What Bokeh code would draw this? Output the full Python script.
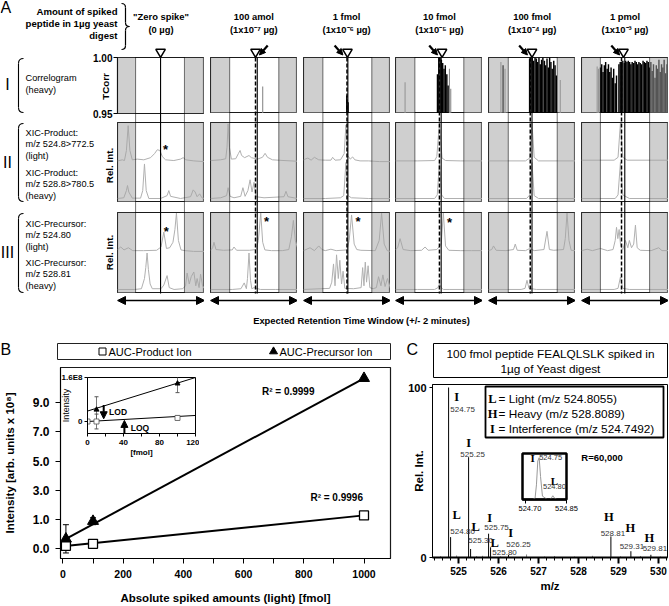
import math
from bokeh.plotting import figure
from bokeh.models import (Range1d, ColumnDataSource, Arrow, NormalHead, TeeHead, Whisker,
                          FixedTicker, SingleIntervalTicker, LinearAxis, BoxAnnotation,
                          PrintfTickFormatter)
from bokeh.embed import file_html
from bokeh.resources import INLINE
from bokeh.core.properties import value

# ====================== DATA ======================
AMOUNT_LABELS = ['"Zero spike"', "100 amol", "1 fmol", "10 fmol", "100 fmol", "1 pmol"]
AMOUNT_UG = ["(0 µg)", "(1x10⁻⁷ µg)", "(1x10⁻⁶ µg)", "(1x10⁻⁵ µg)", "(1x10⁻⁴ µg)", "(1x10⁻³ µg)"]
RT_WINDOW = 2.0                      # +/- 2 minutes
WINDOW_LO = [-1.17, -1.12, -1.11, -1.11, -1.09, -1.13]
WINDOW_HI = [1.08, 1.14, 1.14, 1.14, 1.16, 1.13]
EXPECTED_RT = [-0.02, 0.15, 0.04, 0.10, 0.0, -0.01]
OBSERVED_RT = [None, 0.07, 0.0, 0.02, -0.08, -0.16]
TRIANGLE_RT = [-0.02, 0.07, 0.02, 0.14, 0.0, -0.07]
ARROW_TIP_RT = [None, 0.21, -0.15, -0.03, -0.17, -0.21]
ARROW_FROM = [0, 1, -1, -1, -1, -1]

# correlogram (time [min], TCorr)
corr_black_zero = []
corr_gray_zero = []
corr_black_100amol = []
corr_gray_100amol = [(0.40, 0.974)]
corr_black_1fmol = [(-0.01, 0.966), (0.05, 0.960)]
corr_gray_1fmol = []
corr_black_10fmol = [(-0.07, 0.985), (-0.01, 1.0), (0.05, 1.0), (0.11, 0.998), (0.17, 0.995),
                     (0.23, 0.990), (0.29, 0.993), (0.36, 0.985), (0.42, 0.975)]
corr_gray_10fmol = [(-1.56, 0.978), (0.48, 0.990), (0.54, 0.972)]
corr_black_100fmol = [(-1.33, 0.993), (-0.11, 0.999), (-0.05, 1.0), (0.01, 1.0), (0.07, 0.997),
                      (0.14, 1.0), (0.20, 0.999), (0.26, 0.996), (0.32, 1.0), (0.38, 0.994),
                      (0.44, 0.998), (0.50, 1.0), (0.57, 0.997), (0.63, 0.993), (0.69, 0.999),
                      (0.75, 0.991), (0.81, 1.0), (0.87, 0.996), (0.93, 0.990), (1.00, 0.997),
                      (1.06, 0.993), (1.12, 0.984)]
corr_gray_100fmol = [(-1.43, 0.996), (-1.24, 0.990), (1.30, 0.980)]
corr_black_1pmol = [(-1.13, 0.991), (-1.07, 0.994), (-1.01, 0.987), (-0.95, 0.993), (-0.89, 0.996),
                    (-0.82, 0.990), (-0.76, 0.994), (-0.70, 0.987), (-0.64, 0.991), (-0.58, 0.982),
                    (-0.52, 0.990), (-0.45, 0.977), (-0.39, 0.984),
                    (-0.28, 0.994), (-0.22, 0.996), (-0.16, 0.996), (-0.10, 0.997), (-0.03, 0.995),
                    (0.03, 0.997), (0.09, 0.996), (0.15, 0.997), (0.21, 0.996), (0.27, 0.994),
                    (0.33, 0.996), (0.40, 0.995), (0.46, 0.997), (0.52, 0.996), (0.58, 0.994),
                    (0.64, 0.996), (0.70, 0.995), (0.76, 0.994), (0.83, 0.997), (0.89, 0.996),
                    (0.95, 0.995), (1.01, 0.997), (1.07, 0.996),
                    (1.13, 0.991), (1.19, 0.996), (1.25, 0.988), (1.31, 0.994), (1.38, 0.982),
                    (1.44, 0.993), (1.50, 0.990), (1.56, 0.998), (1.62, 0.987), (1.68, 0.994),
                    (1.74, 0.991), (1.80, 0.998), (1.87, 0.986), (1.93, 0.994), (1.99, 0.990)]
corr_gray_1pmol = [(-1.28, 0.992), (-1.22, 0.990)]

# XIC product ions (row II): (time [min], relative intensity)
prod_light_zero = [(-2.0, 0.0), (-1.78, 0.03), (-1.68, 0.01), (-1.59, 0.29), (-1.51, 0.98), (-1.43, 0.29),
                   (-1.32, 0.03), (-1.09, 0.05), (-0.79, 0.03), (-0.48, 0.09), (-0.30, 0.20), (-0.17, 0.31),
                   (-0.05, 0.29), (0.06, 0.12), (0.21, 0.03), (0.59, 0.01), (0.90, 0.05), (1.02, 0.09),
                   (1.14, 0.03), (1.51, 0.0), (2.0, -0.02)]
prod_heavy_zero = [(-2.0, 0.0), (-1.71, 0.02), (-1.59, 0.22), (-1.54, 0.36), (-1.48, 0.18), (-1.32, 0.01),
                   (-0.94, 0.01), (-0.84, 0.22), (-0.76, 0.96), (-0.68, 0.22), (-0.56, 0.0), (-0.02, 0.0),
                   (0.28, 0.08), (0.36, 0.22), (0.44, 0.06), (0.90, 0.0), (1.36, 0.05), (1.48, 0.24),
                   (1.57, 0.18), (1.66, 0.05), (1.78, 0.13), (1.88, 0.02), (2.0, 0.0)]
prod_light_100amol = [(-2.0, 0.01), (-1.53, 0.03), (-1.30, 0.06), (-1.24, 0.38), (-1.19, 1.03), (-1.13, 0.38),
                      (-1.04, 0.05), (-0.84, 0.06), (-0.72, 0.20), (-0.64, 0.29), (-0.57, 0.15), (-0.43, 0.09),
                      (-0.23, 0.15), (-0.12, 0.09), (0.16, 0.05), (0.39, 0.10), (0.51, 0.21), (0.62, 0.10),
                      (0.85, 0.03), (1.38, 0.01), (2.0, -0.01)]
prod_heavy_100amol = [(-2.0, 0.0), (-1.53, 0.02), (-1.26, 0.08), (-1.19, 0.30), (-1.10, 0.06), (-0.92, 0.02),
                      (-0.61, 0.06), (-0.51, 0.30), (-0.41, 0.06), (-0.28, 0.22), (-0.18, 0.52), (-0.09, 0.18),
                      (0.0, 0.45), (0.09, 0.05), (0.46, 0.02), (1.38, 0.05), (1.47, 0.20), (1.56, 0.05), (2.0, 0.0)]
prod_light_1fmol = [(-2.0, 0.03), (-1.8, 0.08), (-1.65, 0.02), (-1.5, 0.10), (-1.3, 0.03), (-1.0, 0.02),
                    (-0.74, 0.02), (-0.66, 0.10), (-0.55, 0.02), (-0.3, 0.03), (-0.13, 0.20), (-0.05, 1.0),
                    (0.03, 0.15), (0.15, 0.05), (0.26, 0.11), (0.36, 0.03), (0.6, 0.0), (1.0, 0.0),
                    (1.5, -0.02), (2.0, -0.02)]
prod_heavy_1fmol = [(-2.0, 0.0), (-1.0, 0.0), (-0.3, 0.02), (-0.15, 0.08), (-0.05, 1.0), (0.05, 0.08),
                    (0.2, 0.02), (1.0, 0.0), (2.0, 0.0)]
prod_light_10fmol = [(-2.0, 0.0), (-1.0, 0.0), (-0.2, 0.01), (-0.1, 0.12), (0.02, 1.05), (0.14, 0.08),
                     (0.3, 0.01), (1.0, 0.0), (2.0, 0.0)]
prod_heavy_10fmol = [(-2.0, 0.0), (-0.2, 0.0), (-0.08, 0.10), (0.02, 1.0), (0.12, 0.10), (0.25, 0.0), (2.0, 0.0)]
prod_light_100fmol = [(-2.0, 0.0), (-0.3, 0.0), (-0.1, 0.08), (0.0, 1.05), (0.1, 0.10), (0.3, 0.0), (2.0, 0.0)]
prod_heavy_100fmol = [(-2.0, 0.0), (-0.25, 0.0), (-0.1, 0.10), (0.0, 1.0), (0.1, 0.08), (0.3, 0.0), (2.0, 0.0)]
prod_light_1pmol = [(-2.0, 0.02), (-0.5, 0.02), (-0.32, 0.10), (-0.21, 1.05), (-0.1, 0.10), (0.1, 0.02), (2.0, 0.02)]
prod_heavy_1pmol = [(-2.0, 0.0), (-0.45, 0.0), (-0.32, 0.10), (-0.21, 1.0), (-0.1, 0.10), (0.2, 0.0), (2.0, 0.0)]

# XIC precursors (row III)
prec_light_zero = [(-2.0, 0.05), (-1.85, 0.12), (-1.7, 0.04), (-1.5, 0.10), (-1.3, 0.02), (-0.8, 0.02),
                   (-0.2, 0.03), (0.0, 0.12), (0.13, 0.53), (0.25, 0.08), (0.4, 0.10), (0.55, 0.25),
                   (0.64, 0.60), (0.71, 1.05), (0.8, 0.30), (0.92, 0.04), (1.1, 0.02), (1.5, 0.0), (2.0, 0.0)]
prec_heavy_zero = [(-2.0, 0.0), (-1.2, 0.0), (-0.9, 0.02), (-0.76, 0.30), (-0.7, 0.60), (-0.64, 1.0),
                   (-0.58, 0.55), (-0.5, 0.15), (-0.4, 0.02), (0.0, 0.02), (0.13, 0.12), (0.28, 0.38),
                   (0.38, 0.05), (0.6, 0.0), (1.0, 0.02), (1.13, 0.10), (1.2, 0.45), (1.3, 0.15),
                   (1.39, 0.35), (1.51, 0.48), (1.6, 0.10), (1.66, 0.30), (1.75, 0.05), (1.82, 0.42),
                   (1.91, 0.10), (2.0, 0.02)]
prec_light_100amol = [(-2.0, 0.03), (-1.9, 0.10), (-1.84, 0.25), (-1.75, 0.05), (-1.4, 0.03), (-1.0, 0.04),
                      (-0.92, 0.12), (-0.8, 0.03), (-0.2, 0.03), (0.1, 0.05), (0.2, 0.30), (0.31, 1.05),
                      (0.4, 0.25), (0.5, 0.04), (0.8, 0.02), (1.3, 0.02), (1.6, 0.05), (1.72, 0.40),
                      (1.81, 0.85), (1.9, 0.30), (2.0, 0.10)]
prec_heavy_100amol = [(-2.0, 0.0), (-1.0, 0.0), (-0.6, 0.02), (-0.45, 0.18), (-0.35, 0.02), (-0.3, 0.30),
                      (-0.23, 1.0), (-0.16, 0.25), (-0.1, 0.02), (0.0, 0.05), (0.3, 0.0), (1.0, 0.0), (2.0, 0.0)]
prec_light_1fmol = [(-2.0, 0.02), (-1.7, 0.10), (-1.5, 0.02), (-1.3, 0.15), (-1.15, 0.05), (-1.0, 0.02),
                    (-0.74, 0.06), (-0.5, 0.02), (0.0, 0.04), (0.1, 0.30), (0.21, 1.0), (0.33, 0.20),
                    (0.45, 0.05), (0.64, 0.03), (1.3, 0.02), (1.48, 0.30), (1.59, 1.05), (1.71, 0.20),
                    (1.85, 0.02), (2.0, 0.0)]
prec_heavy_1fmol = [(-2.0, 0.0), (-1.2, 0.02), (-0.8, 0.03), (-0.7, 0.20), (-0.62, 0.70), (-0.55, 0.10),
                    (-0.48, 0.95), (-0.4, 0.30), (-0.33, 0.80), (-0.25, 0.15), (-0.18, 0.50), (-0.1, 0.03),
                    (0.3, 0.02), (0.65, 0.05), (0.72, 0.60), (0.78, 0.10), (0.84, 0.75), (0.9, 0.20),
                    (0.97, 0.65), (1.05, 0.05), (1.2, 0.02), (1.35, 0.05), (1.45, 0.35), (1.56, 0.10),
                    (1.65, 0.40), (1.75, 0.08), (1.86, 0.30), (2.0, 0.02)]
prec_light_10fmol = [(-2.0, 0.05), (-1.9, 0.10), (-1.79, 0.35), (-1.65, 0.05), (-1.3, 0.02), (-0.8, 0.03),
                     (-0.64, 0.12), (-0.5, 0.03), (-0.1, 0.05), (0.1, 0.20), (0.2, 1.05), (0.3, 0.15),
                     (0.45, 0.03), (1.0, 0.02), (1.5, 0.02), (2.0, 0.02)]
prec_heavy_10fmol = [(-2.0, 0.0), (-1.0, 0.0), (-0.2, 0.0), (-0.05, 0.05), (0.02, 0.15), (0.1, 0.05),
                     (0.2, 0.0), (0.5, 0.0), (2.0, 0.0)]
prec_light_100fmol = [(-2.0, 0.02), (-1.85, 0.05), (-1.77, 0.15), (-1.65, 0.03), (-1.2, 0.02), (-0.85, 0.05),
                      (-0.77, 0.20), (-0.68, 0.03), (-0.3, 0.02), (-0.1, 0.08), (0.1, 0.02), (0.55, 0.05),
                      (0.69, 0.55), (0.8, 0.05), (1.0, 0.03), (1.45, 0.05), (1.53, 0.35), (1.61, 1.05),
                      (1.7, 0.30), (1.8, 0.03), (2.0, 0.02)]
prec_heavy_100fmol = [(-2.0, 0.0), (-0.5, 0.0), (-0.32, 0.03), (-0.23, 0.25), (-0.14, 0.03), (0.2, 0.0), (2.0, 0.0)]
prec_light_1pmol = [(-2.0, 0.02), (-1.74, 0.06), (-1.5, 0.02), (-1.13, 0.08), (-0.8, 0.02), (-0.55, 0.05),
                    (-0.45, 0.30), (-0.39, 0.66), (-0.33, 0.35), (-0.27, 0.60), (-0.2, 0.15), (-0.1, 0.05),
                    (0.02, 0.30), (0.13, 0.10), (0.2, 0.30), (0.3, 0.10), (0.4, 0.20), (0.48, 0.72),
                    (0.56, 0.10), (0.7, 0.03), (1.2, 0.02), (1.55, 0.10), (1.7, 0.02), (2.0, 0.02)]
prec_heavy_1pmol = [(-2.0, 0.0), (-0.5, 0.0), (-0.32, 0.03), (-0.21, 0.34), (-0.1, 0.03), (0.2, 0.0), (2.0, 0.0)]

# asterisk marks: (panel index, time, light rel. int.)
STAR_ROW2 = [(0, 0.21, 0.43)]
STAR_ROW3 = [(0, 0.24, 0.66), (1, 0.58, 0.94), (2, 0.51, 0.94), (3, 0.48, 0.89)]

# Panel B: calibration (printed axis scale, x 10^8)
fmol_product = [0, 10, 100, 1000]
auc_product = [-0.82, -0.82, -0.68, 1.27]
auc_product_err = [0.15, 0.30, 0.10, 0.10]
fmol_precursor = [10, 100, 1000]
auc_precursor = [-0.34, 0.87, 10.68]
auc_precursor_err = [0.97, 0.24, 0.12]
product_fit_x = [0, 1000]
product_fit_y = [-0.85, 1.27]
precursor_fit_x = [10, 1000]
precursor_fit_y = [-0.34, 10.68]
B_XTICKS = [0, 200, 400, 600, 800, 1000]
B_XMINOR = [100, 300, 500, 700, 900]
B_YTICK_POS = [-1, 1, 3, 5, 7, 9]
B_YTICK_LABELS = ["0.0", "1.0", "3.0", "5.0", "7.0", "9.0"]
R2_TEXT = ["R² = 0.9999", "R² = 0.9996"]
R2_X = [661, 822]
R2_Y = [9.74, 2.48]

# Panel B inset (absolute intensity)
inset_fmol_product = [0, 10, 100]
inset_product = [0.0, 0.0, 0.13e8]
inset_product_err = [0.0, 0.27e8, 0.08e8]
inset_fmol_precursor = [10, 100]
inset_precursor = [0.43e8, 1.38e8]
inset_precursor_err = [0.47e8, 0.33e8]
inset_fit_x = [0, 120]
inset_product_fit = [0.0, 0.22e8]
inset_precursor_fit = [0.38e8, 1.60e8]
LOD_FMOL = 18
LOQ_FMOL = 41
INSET_XTICKS = [0, 40, 80, 120]
INSET_XMINOR = [20, 60, 100]
INSET_YTICKS = [0, 1.6e8]
INSET_YLABELS = ["0", "1.6E8"]

# Panel C: spectrum
peak_mz = [524.75, 524.80, 525.25, 525.30, 525.75, 525.80, 526.25, 528.81, 529.31, 529.81]
peak_int = [100, 12, 59, 5, 14, 6, 1.5, 12.4, 3.7, 1.6]
peak_kind = ["I", "L", "I", "L", "I", "L", "I", "H", "H", "H"]
peak_label = ["524.75", "524.80", "525.25", "525.30", "525.75", "525.80", "526.25", "528.81", "529.31", "529.81"]
noise_mz = [524.55, 524.95, 525.45, 525.60, 526.05, 526.70, 527.15, 527.40, 527.90, 528.35, 529.05, 529.55, 530.05]
noise_int = [0.8, 1.2, 0.8, 1.0, 0.7, 1.8, 0.6, 0.9, 0.6, 1.0, 0.7, 0.9, 0.6]
inset_mz = [524.690, 524.725, 524.735, 524.740, 524.745, 524.750, 524.755, 524.762, 524.780,
            524.790, 524.795, 524.800, 524.805, 524.815, 524.850]
inset_int = [0, 0, 3, 35, 92, 100, 55, 8, 0, 0, 4, 9, 4, 0, 0]

# label offsets (layout, px) relative to peak tops
letter_dx = [8, 6, 0, 5, 1, 4, 2, -2, -0.5, -1.5]
letter_dy = [10, -22, -14, -21.5, -16, -4, -21.5, -19, -23, -17]
number_dx = [14, 12, 4, 10, 8, 14, 10, 2, 1, 4]
number_dy = [22, -6, -3, -8.5, -6, 5, -10.5, -3, -5, -6]

# ====================== HELPERS ======================
FONT = "Liberation Sans"
SERIF = "Liberation Serif"
ROOTS = []


def px(v):
    return f"{v}px"


def make_fig(l, t, r, b, xr, yr, bl=0, bt=0, br=0, bb=0, bg="white", outline="#1a1a1a", outline_width=1.2):
    L, T, R, B = round(l), round(t), round(r), round(b)
    p = figure(width=R - L + bl + br, height=B - T + bt + bb, x_range=xr, y_range=yr,
               x_axis_location=None, y_axis_location=None, toolbar_location=None,
               output_backend="svg", min_border=0, min_border_left=bl, min_border_right=br,
               min_border_top=bt, min_border_bottom=bb)
    p.grid.visible = False
    p.border_fill_color = None
    p.background_fill_color = bg
    p.outline_line_color = outline
    p.outline_line_width = outline_width
    p.styles = {"position": "absolute", "left": f"{L - bl}px", "top": f"{T - bt}px"}
    ROOTS.append(p)
    return p


def style_axis(ax, size=12, bold=True, title_size=12, title_bold=True):
    ax.major_label_text_font = FONT
    ax.major_label_text_font_size = px(size)
    ax.major_label_text_font_style = "bold" if bold else "normal"
    ax.major_label_text_color = "black"
    ax.axis_label_text_font = FONT
    ax.axis_label_text_font_size = px(title_size)
    ax.axis_label_text_font_style = "bold" if title_bold else "normal"
    ax.axis_label_text_color = "black"
    ax.axis_line_color = "black"
    ax.major_tick_line_color = "black"
    ax.minor_tick_line_color = "black"
    ax.major_tick_in = 0
    ax.minor_tick_in = 0


def txt(p, x, y, s, size, bold=False, align="left", baseline="middle", angle=0.0,
        font=FONT, color="black"):
    xs = x if isinstance(x, list) else [x]
    ys = y if isinstance(y, list) else [y]
    ss = s if isinstance(s, list) else [s]
    p.text(x=xs, y=ys, text=ss, text_font=value(font), text_font_size=value(px(size)),
           text_font_style="bold" if bold else "normal", text_align=align,
           text_baseline=baseline, angle=angle, text_color=color)


# ====================== BACKGROUND CANVAS ======================
bg = figure(width=669, height=606, x_range=Range1d(0, 669), y_range=Range1d(606, 0),
            x_axis_location=None, y_axis_location=None, toolbar_location=None,
            output_backend="svg", min_border=0)
bg.grid.visible = False
bg.outline_line_color = None
ROOTS.append(bg)

PANEL_LEFT = [117.0, 209.8, 302.6, 395.4, 488.2, 581.0]
PANEL_W = 87.0
ROW_TOP = [57.0, 122.0, 212.0]
ROW_BOT = [113.0, 202.0, 293.0]
GUIDE_TOP, GUIDE_BOT = 42.0, 307.0

txt(bg, 0, 7, "A", 16)
txt(bg, 0, 349, "B", 16)
txt(bg, 406, 349, "C", 16)

# header
txt(bg, [117, 117, 117], [11, 23, 35], ["Amount of spiked", "peptide in 1µg yeast", "digest"], 9.6,
    bold=True, align="right")
bx, btop, bbot, bmid = 121.0, 3.0, 49.0, 26.0
bg.quadratic(x0=[bx, bx + 4, bx + 8, bx + 4], y0=[btop, bmid - 4, bmid, bbot - 4],
             x1=[bx + 4, bx + 8, bx + 4, bx], y1=[btop + 4, bmid, bmid + 4, bbot],
             cx=[bx + 4, bx + 4, bx + 4, bx + 4], cy=[btop, bmid, bmid, bbot], line_color="black", line_width=1.2)
bg.segment(x0=[bx + 4, bx + 4], y0=[btop + 4, bmid + 4], x1=[bx + 4, bx + 4], y1=[bmid - 4, bbot - 4],
           line_color="black", line_width=1.2)

centers = [l + PANEL_W / 2 for l in PANEL_LEFT]
txt(bg, centers, [16] * 6, AMOUNT_LABELS, 9.4, bold=True, align="center")
txt(bg, centers, [28.5] * 6, AMOUNT_UG, 9.4, bold=True, align="center")

for top, bot in zip(ROW_TOP, ROW_BOT):
    x1, x0 = 23.0, 18.0
    bg.quadratic(x0=[x1, x0], y0=[top + 1, bot - 6], x1=[x0, x1], y1=[top + 6, bot - 1],
                 cx=[x0, x0], cy=[top + 1, bot - 1], line_color="black", line_width=1.1)
    bg.segment(x0=[x0], y0=[top + 6], x1=[x0], y1=[bot - 6], line_color="black", line_width=1.1)

txt(bg, [7, 7, 7], [84, 162, 252], ["I", "II", "III"], 16, align="center")
txt(bg, [25, 25], [77, 89], ["Correlogram", "(heavy)"], 9.2)
txt(bg, [25] * 6, [132, 143.5, 155, 172, 183.5, 195],
    ["XIC-Product:", "m/z 524.8>772.5", "(light)", "XIC-Product:", "m/z 528.8>780.5", "(heavy)"], 9.2)
txt(bg, [25] * 6, [223, 234.5, 246, 262, 273.5, 285],
    ["XIC-Precursor:", "m/z 524.80", "(light)", "XIC-Precursor:", "m/z 528.81", "(heavy)"], 9.2)
txt(bg, [105], [86], ["TCorr"], 9.8, bold=True, align="center", angle=math.pi / 2)
txt(bg, [109, 109], [165, 252], ["Rel. Int.", "Rel. Int."], 9.8, bold=True, align="center", angle=math.pi / 2)

txt(bg, 361, 320, "Expected Retention Time Window (+/- 2 minutes)", 9.4, bold=True, align="center")

# panel B legend box
bg.quad(left=[57], right=[390], top=[343], bottom=[359], fill_color=None, line_color="#222", line_width=1)
bg.scatter(x=[102], y=[351], marker="square", size=7, fill_color="white", line_color="black", line_width=1)
bg.scatter(x=[273], y=[351], marker="triangle", size=8, fill_color="black", line_color="black")
txt(bg, [108, 279], [351.5, 351.5], ["AUC-Product  Ion", "AUC-Precursor Ion"], 11)

# panel C title box
bg.quad(left=[433], right=[667], top=[343], bottom=[377], fill_color=None, line_color="black", line_width=1)
txt(bg, [550, 550], [353.5, 368], ["100 fmol peptide FEALQLSLK spiked in", "1µg of Yeast digest"], 11.8,
    align="center")
# panel C legend box
bg.quad(left=[485], right=[663], top=[386], bottom=[437], fill_color="white", line_color="black", line_width=1.8)
txt(bg, [492, 492, 492], [398, 413, 428], ["L", "H", "I"], 12.5, bold=True, align="center", font=SERIF)
txt(bg, [498, 498, 498], [398.5, 413.5, 428.5],
    ["= Light (m/z 524.8055)", "= Heavy (m/z 528.8089)", "= Interference (m/z 524.7492)"], 11.8)

# ====================== PANEL A ======================
corr_black = [corr_black_zero, corr_black_100amol, corr_black_1fmol, corr_black_10fmol, corr_black_100fmol, corr_black_1pmol]
corr_gray = [corr_gray_zero, corr_gray_100amol, corr_gray_1fmol, corr_gray_10fmol, corr_gray_100fmol, corr_gray_1pmol]
prod_light = [prod_light_zero, prod_light_100amol, prod_light_1fmol, prod_light_10fmol, prod_light_100fmol, prod_light_1pmol]
prod_heavy = [prod_heavy_zero, prod_heavy_100amol, prod_heavy_1fmol, prod_heavy_10fmol, prod_heavy_100fmol, prod_heavy_1pmol]
prec_light = [prec_light_zero, prec_light_100amol, prec_light_1fmol, prec_light_10fmol, prec_light_100fmol, prec_light_1pmol]
prec_heavy = [prec_heavy_zero, prec_heavy_100amol, prec_heavy_1fmol, prec_heavy_10fmol, prec_heavy_100fmol, prec_heavy_1pmol]

SHADE_COLOR = "#a3a3a3"
SHADE_ALPHA = 0.52
TRACE_COLOR = "#b0b0b0"


def shade(p, i):
    p.add_layout(BoxAnnotation(right=WINDOW_LO[i], fill_color=SHADE_COLOR, fill_alpha=SHADE_ALPHA, line_alpha=0))
    p.add_layout(BoxAnnotation(left=WINDOW_HI[i], fill_color=SHADE_COLOR, fill_alpha=SHADE_ALPHA, line_alpha=0))


panel_figs = []
guide_figs = []
for i in range(6):
    l = PANEL_LEFT[i]
    r = l + PANEL_W
    if i == 0:
        pc_ = make_fig(l, ROW_TOP[0], r, ROW_BOT[0], Range1d(-RT_WINDOW, RT_WINDOW), Range1d(0.95, 1.0),
                       bl=30, bt=6, bb=6)
        ya = LinearAxis(ticker=FixedTicker(ticks=[0.95, 1.0]),
                        major_label_overrides={0.95: "0.95", 1.0: "1.00"})
        style_axis(ya, size=10)
        ya.major_tick_out = 4
        ya.major_label_standoff = 1
        pc_.add_layout(ya, "left")
    else:
        pc_ = make_fig(l, ROW_TOP[0], r, ROW_BOT[0], Range1d(-RT_WINDOW, RT_WINDOW), Range1d(0.95, 1.0))
    if corr_black[i]:
        t, v = zip(*corr_black[i])
        pc_.vbar(x=list(t), width=0.066, top=list(v), bottom=0.95, fill_color="black", line_color=None)
    if corr_gray[i]:
        t, v = zip(*corr_gray[i])
        pc_.vbar(x=list(t), width=0.05, top=list(v), bottom=0.95, fill_color="#8a8a8a", line_color=None)
    shade(pc_, i)

    for row, (light, heavy, stars) in enumerate([(prod_light, prod_heavy, STAR_ROW2),
                                                 (prec_light, prec_heavy, STAR_ROW3)], start=1):
        px_ = make_fig(l, ROW_TOP[row], r, ROW_BOT[row], Range1d(-RT_WINDOW, RT_WINDOW), Range1d(-0.111, 2.111))
        px_.extra_y_ranges = {"light": Range1d(-1.156, 1.067)}
        t, v = zip(*heavy[i])
        px_.line(x=list(t), y=list(v), line_color=TRACE_COLOR, line_width=1)
        t, v = zip(*light[i])
        px_.line(x=list(t), y=list(v), line_color=TRACE_COLOR, line_width=1, y_range_name="light")
        st = [s for s in stars if s[0] == i]
        if st:
            px_.text(x=[s[1] for s in st], y=[s[2] for s in st], text=["*"] * len(st), y_range_name="light",
                     text_font=value(FONT), text_font_size=value(px(13)), text_font_style="bold",
                     text_align="center", text_baseline="middle", y_offset=4)
        shade(px_, i)

for i in range(6):
    l = PANEL_LEFT[i]
    r = l + PANEL_W
    g = make_fig(l, GUIDE_TOP, r, GUIDE_BOT, Range1d(-RT_WINDOW, RT_WINDOW), Range1d(GUIDE_BOT, GUIDE_TOP),
                 bg=None, outline=None)
    g.segment(x0=[WINDOW_LO[i], WINDOW_HI[i]], y0=[ROW_TOP[0]] * 2, x1=[WINDOW_LO[i], WINDOW_HI[i]],
              y1=[ROW_BOT[2]] * 2, line_color="black", line_width=1.1, line_dash="1 1")
    g.segment(x0=[EXPECTED_RT[i]], y0=[ROW_TOP[0]], x1=[EXPECTED_RT[i]], y1=[ROW_BOT[2]],
              line_color="black", line_width=1.1)
    if OBSERVED_RT[i] is not None:
        g.segment(x0=[OBSERVED_RT[i]], y0=[ROW_TOP[0]], x1=[OBSERVED_RT[i]], y1=[ROW_BOT[2]],
                  line_color="black", line_width=1.5, line_dash="4 2")
    g.scatter(x=[TRIANGLE_RT[i]], y=[51.5], marker="inverted_triangle", size=9.5, fill_color="white",
              line_color="black", line_width=1.5)
    if ARROW_TIP_RT[i] is not None:
        d = ARROW_FROM[i]
        g.add_layout(Arrow(end=NormalHead(size=6, fill_color="black", line_color="black"),
                           x_start=ARROW_TIP_RT[i] + d * 0.42, y_start=45,
                           x_end=ARROW_TIP_RT[i] + d * 0.04, y_end=54.5,
                           line_color="black", line_width=2.2))
    g.add_layout(Arrow(start=NormalHead(size=8, fill_color="black", line_color="black"),
                       end=NormalHead(size=8, fill_color="black", line_color="black"),
                       x_start=-RT_WINDOW, y_start=300, x_end=RT_WINDOW, y_end=300,
                       line_color="black", line_width=1.5))

# ====================== PANEL B ======================
pb = make_fig(57, 367, 390, 562, Range1d(-8, 1088), Range1d(-1.69, 11.42), bl=57, bt=4, br=8, bb=44, bg=None)
xa = LinearAxis(ticker=FixedTicker(ticks=B_XTICKS, minor_ticks=B_XMINOR),
                axis_label="Absolute spiked amounts (light) [fmol]")
style_axis(xa, size=10.5, title_size=11.5)
xa.major_tick_out = 5
xa.minor_tick_out = 5
xa.major_label_standoff = 6
xa.axis_label_standoff = 11
pb.add_layout(xa, "below")
ya = LinearAxis(ticker=FixedTicker(ticks=B_YTICK_POS),
                major_label_overrides=dict(zip(B_YTICK_POS, B_YTICK_LABELS)),
                axis_label="Intensity [arb. units x 10⁸]")
style_axis(ya, size=12, title_size=11.5)
ya.major_tick_out = 5
ya.major_label_standoff = 6
ya.axis_label_standoff = 14
pb.add_layout(ya, "left")

pb.line(x=product_fit_x, y=product_fit_y, line_color="black", line_width=2)
pb.line(x=precursor_fit_x, y=precursor_fit_y, line_color="black", line_width=2)
src_p = ColumnDataSource(dict(x=fmol_product, y=auc_product,
                              lo=[a - e for a, e in zip(auc_product, auc_product_err)],
                              hi=[a + e for a, e in zip(auc_product, auc_product_err)]))
src_q = ColumnDataSource(dict(x=fmol_precursor, y=auc_precursor,
                              lo=[a - e for a, e in zip(auc_precursor, auc_precursor_err)],
                              hi=[a + e for a, e in zip(auc_precursor, auc_precursor_err)]))
for src in (src_p, src_q):
    pb.add_layout(Whisker(source=src, base="x", upper="hi", lower="lo", line_color="black", line_width=1,
                          upper_head=TeeHead(size=6, line_color="black"),
                          lower_head=TeeHead(size=6, line_color="black")))
pb.scatter(x="x", y="y", source=src_p, marker="square", size=9, fill_color="white", line_color="black",
           line_width=1.3)
pb.scatter(x="x", y="y", source=src_q, marker="triangle", size=11, fill_color="black", line_color="black")
pb.text(x=R2_X, y=R2_Y, text=R2_TEXT, text_font=value(FONT), text_font_size=value(px(10)),
        text_font_style="bold", text_align="left", text_baseline="middle")

# ---- inset
pbi = make_fig(87, 377, 195, 433, Range1d(0, 120), Range1d(-0.436e8, 1.6e8), bl=30, bt=6, br=4, bb=28,
               outline="black", outline_width=1)
ixa = LinearAxis(ticker=FixedTicker(ticks=INSET_XTICKS, minor_ticks=INSET_XMINOR), axis_label="[fmol]")
style_axis(ixa, size=8, title_size=8)
ixa.major_tick_out = 3
ixa.minor_tick_out = 3
ixa.major_label_standoff = 3
ixa.axis_label_standoff = 0
pbi.add_layout(ixa, "below")
iya = LinearAxis(ticker=FixedTicker(ticks=INSET_YTICKS),
                 major_label_overrides=dict(zip(INSET_YTICKS, INSET_YLABELS)), axis_label="Intensity")
style_axis(iya, size=8, title_size=9, title_bold=False)
iya.major_tick_out = 3
iya.major_label_standoff = 2
iya.axis_label_standoff = -12
pbi.add_layout(iya, "left")
pbi.line(x=inset_fit_x, y=inset_product_fit, line_color="black", line_width=1)
pbi.line(x=inset_fit_x, y=inset_precursor_fit, line_color="black", line_width=1)
src_ip = ColumnDataSource(dict(x=inset_fmol_product, y=inset_product,
                               lo=[a - e for a, e in zip(inset_product, inset_product_err)],
                               hi=[a + e for a, e in zip(inset_product, inset_product_err)]))
src_iq = ColumnDataSource(dict(x=inset_fmol_precursor, y=inset_precursor,
                               lo=[a - e for a, e in zip(inset_precursor, inset_precursor_err)],
                               hi=[a + e for a, e in zip(inset_precursor, inset_precursor_err)]))
for src in (src_ip, src_iq):
    pbi.add_layout(Whisker(source=src, base="x", upper="hi", lower="lo", line_color="#555", line_width=0.8,
                           upper_head=TeeHead(size=4, line_color="#555"),
                           lower_head=TeeHead(size=4, line_color="#555")))
pbi.scatter(x="x", y="y", source=src_ip, marker="square", size=5, fill_color="white", line_color="#555",
            line_width=0.8)
pbi.scatter(x="x", y="y", source=src_iq, marker="triangle", size=5, fill_color="black", line_color="black")
pbi.add_layout(Arrow(end=NormalHead(size=7, fill_color="black", line_color="black"),
                     x_start=LOD_FMOL, y_start=0.60e8, x_end=LOD_FMOL, y_end=0.10e8,
                     line_color="black", line_width=2))
pbi.add_layout(Arrow(end=NormalHead(size=7, fill_color="black", line_color="black"),
                     x_start=LOQ_FMOL, y_start=-0.43e8, x_end=LOQ_FMOL, y_end=0.04e8,
                     line_color="black", line_width=2))
pbi.text(x=[LOD_FMOL + 6, LOQ_FMOL + 7], y=[0.33e8, -0.22e8], text=["LOD", "LOQ"], text_font=value(FONT),
         text_font_size=value(px(8.5)), text_font_style="bold", text_align="left", text_baseline="middle")

# ====================== PANEL C ======================
pcc = make_fig(432, 384, 667, 557, Range1d(524.347, 530.226), Range1d(0, 101.76), bl=42, bt=3, br=2, bb=49,
               bg=None, outline="black", outline_width=1)
cxa = LinearAxis(ticker=SingleIntervalTicker(interval=1, num_minor_ticks=5), axis_label="m/z")
style_axis(cxa, size=10, title_size=11.5)
cxa.axis_line_width = 2
cxa.major_tick_line_width = 2
cxa.major_tick_out = 6
cxa.minor_tick_out = 3
cxa.major_label_standoff = 3
cxa.axis_label_standoff = 2
pcc.add_layout(cxa, "below")
cya = LinearAxis(ticker=FixedTicker(ticks=[0, 100]), axis_label="Rel. Int.")
style_axis(cya, size=11, title_size=11.5)
cya.major_tick_out = 3
cya.major_label_standoff = 3
cya.axis_label_standoff = -20
pcc.add_layout(cya, "left")

pcc.segment(x0=noise_mz, y0=[0] * len(noise_mz), x1=noise_mz, y1=noise_int, line_color="#888", line_width=1)
pcc.segment(x0=peak_mz, y0=[0] * len(peak_mz), x1=peak_mz, y1=peak_int, line_color="black", line_width=1)
src_lab = ColumnDataSource(dict(x=peak_mz, y=peak_int, k=peak_kind, n=peak_label,
                                ldx=letter_dx, ldy=letter_dy, ndx=number_dx, ndy=number_dy))
pcc.text(x="x", y="y", text="k", x_offset="ldx", y_offset="ldy", source=src_lab, text_font=value(SERIF),
         text_font_size=value(px(12.5)), text_font_style="bold", text_align="center", text_baseline="middle")
pcc.text(x="x", y="y", text="n", x_offset="ndx", y_offset="ndy", source=src_lab, text_font=value(FONT),
         text_font_size=value(px(8)), text_align="center", text_baseline="middle", text_color="#333")
pcc.text(x=[528.07], y=[58.8], text=["R=60,000"], text_font=value(FONT), text_font_size=value(px(9.5)),
         text_font_style="bold", text_align="left", text_baseline="middle")

# ---- inset
pci = make_fig(522, 453, 566, 499, Range1d(524.689, 524.85), Range1d(0, 110), bl=4, bt=3, br=14, bb=16,
               outline="black", outline_width=2.5)
cix = LinearAxis(ticker=FixedTicker(ticks=[524.70, 524.85]), formatter=PrintfTickFormatter(format="%.2f"))
style_axis(cix, size=7.5, bold=False)
cix.axis_line_width = 2
cix.major_tick_out = 4
cix.major_label_standoff = 2
pci.add_layout(cix, "below")
pci.line(x=inset_mz, y=inset_int, line_color="#999", line_width=1)
pci.text(x=[524.726, 524.806], y=[100.4, 45.4], text=["I", "L"], text_font=value(SERIF),
         text_font_size=value(px(11)), text_font_style="bold", text_align="center", text_baseline="middle")
pci.text(x=[524.792, 524.806], y=[100.4, 31], text=["524.75", "524.80"], text_font=value(FONT),
         text_font_size=value(px(7.5)), text_align="center", text_baseline="middle", text_color="#333")

# background canvas first (in flow), then overlays in drawing order
order = [bg] + [p for p in ROOTS if p is not bg]
open("out.html", "w").write(file_html(order, INLINE, title="chart"))
